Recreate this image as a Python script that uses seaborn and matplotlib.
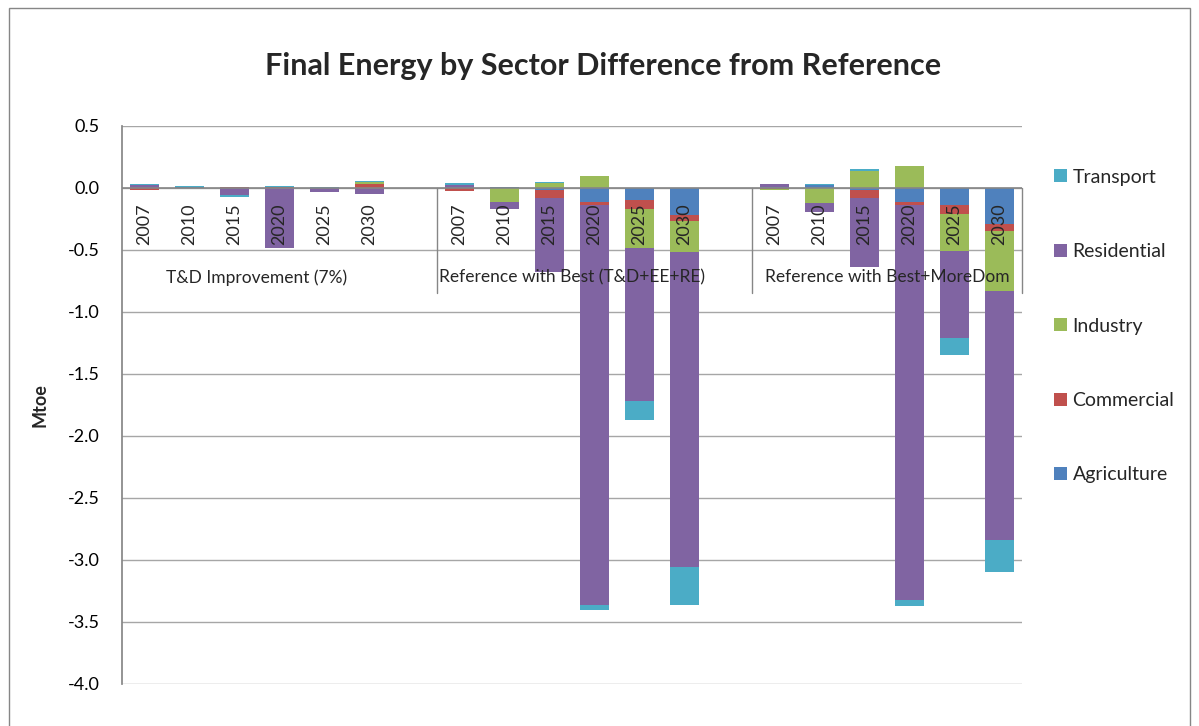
import numpy as np
import pandas as pd
import matplotlib
matplotlib.use("Agg")
import matplotlib.pyplot as plt
import seaborn as sns
from matplotlib.patches import Patch, Rectangle

# 数据
groups = ["T&D Improvement (7%)", "Reference with Best (T&D+EE+RE)", "Reference with Best+MoreDom"]
years = ["2007", "2010", "2015", "2020", "2025", "2030"]
sectors = ["Agriculture", "Commercial", "Industry", "Residential", "Transport"]

# 每个部门 3 组 x 6 年
agriculture = [0.0, 0.005, 0.0, 0.0, 0.0, 0.0,
               0.005, 0.005, -0.02, -0.11, -0.10, -0.22,
               0.005, 0.025, -0.02, -0.11, -0.14, -0.29]
commercial = [-0.02, 0.0, 0.01, 0.01, 0.0, 0.03,
              -0.025, 0.0, -0.06, -0.03, -0.07, -0.05,
              -0.01, 0.0, -0.06, -0.03, -0.07, -0.06]
industry = [0.0, 0.005, 0.0, 0.0, 0.0, 0.02,
            0.007, -0.11, 0.04, 0.10, -0.31, -0.25,
            -0.01, -0.12, 0.14, 0.18, -0.30, -0.48]
residential = [0.025, 0.0, -0.06, -0.485, -0.03, -0.045,
               0.015, -0.06, -0.60, -3.22, -1.24, -2.54,
               0.025, -0.075, -0.56, -3.18, -0.70, -2.01]
transport = [0.005, 0.008, -0.01, 0.01, 0.008, 0.01,
             0.01, 0.005, 0.008, -0.045, -0.15, -0.30,
             0.005, 0.005, 0.01, -0.05, -0.14, -0.26]

colors = {"Agriculture": "#4F81BD", "Commercial": "#C0504D", "Industry": "#9BBB59",
          "Residential": "#8064A2", "Transport": "#4BACC6"}
values = {"Agriculture": agriculture, "Commercial": commercial, "Industry": industry,
          "Residential": residential, "Transport": transport}

# 类别位置（组之间留空位）
slots = []
slot_of = []
for gi, g in enumerate(groups):
    for y in years:
        slots.append(f"{g}|{y}")
        slot_of.append(len(slots) - 1)
    if gi < len(groups) - 1:
        slots.append(f"gap{gi}")

sns.set_theme(style="white")
plt.rcParams["font.family"] = ["Lato", "DejaVu Sans"]
plt.rcParams["axes.unicode_minus"] = False

W, H = 1199, 726
fig = plt.figure(figsize=(W / 100, H / 100), dpi=100)
ax = fig.add_axes([122 / W, 1 - 684 / H, 900 / W, 558 / H])

# 正负分别堆叠：先画累计最远的，再覆盖
for sign in (1, -1):
    cum = np.zeros(18)
    cums = {}
    for s in sectors:
        v = np.array(values[s])
        part = np.where(v * sign > 0, v, 0.0)
        cum = cum + part
        cums[s] = cum.copy()
    for s in reversed(sectors):
        full = np.zeros(len(slots))
        for i, idx in enumerate(slot_of):
            full[idx] = cums[s][i]
        df = pd.DataFrame({"slot": slots, "val": full})
        sns.barplot(data=df, x="slot", y="val", order=slots, color=colors[s],
                    saturation=1, width=0.64, errorbar=None, linewidth=0,
                    edgecolor="none", ax=ax)

ax.set_xlim(-0.5, len(slots) - 0.5)
ax.set_ylim(-4.0, 0.5)
ax.set_yticks(np.arange(-4.0, 0.51, 0.5))
ax.set_yticklabels([f"{t:.1f}" for t in np.arange(-4.0, 0.51, 0.5)], fontsize=13)
ax.set_xticks([])
ax.set_xlabel("")
ax.set_ylabel("")
ax.tick_params(axis="y", length=0, pad=16, colors="black")
ax.yaxis.grid(True, color="#a6a6a6", linewidth=1)
ax.set_axisbelow(True)
for sp in ["top", "right", "bottom"]:
    ax.spines[sp].set_visible(False)
ax.spines["left"].set_color("#868686")
ax.axhline(0, color="#868686", linewidth=1.2, zorder=3)

# 年份标签与分组标签
for gi, g in enumerate(groups):
    for yi, y in enumerate(years):
        pos = slot_of[gi * 6 + yi]
        ax.text(pos, -0.29, y, rotation=90, ha="center", va="center", fontsize=13, zorder=4)
    start = slot_of[gi * 6]
    ax.text(start + 2.5, -0.72, g, ha="center", va="center", fontsize=12.5)
for xb in [6.5, 13.5, 19.5]:
    ax.plot([xb, xb], [0, -0.85], color="#868686", linewidth=1, clip_on=False)

# 标题和轴标签
fig.text(603 / W, 1 - 66 / H, "Final Energy by Sector Difference from Reference",
         ha="center", va="center", fontsize=22, fontweight="bold")
fig.text(40 / W, 1 - 405 / H, "Mtoe", rotation=90, ha="center", va="center",
         fontsize=13, fontweight="bold")

# 图例
handles = [Patch(facecolor=colors[s], edgecolor="none") for s in reversed(sectors)]
fig.legend(handles, list(reversed(sectors)), loc="center left",
           bbox_to_anchor=(1054 / W, 1 - 326 / H), frameon=False, fontsize=14,
           handlelength=0.65, handleheight=0.65, handletextpad=0.3, labelspacing=2.95,
           borderpad=0, borderaxespad=0)

# 外框
fig.patches.append(Rectangle((9 / W, -0.1), (1190 - 9) / W, 1.1 - 8 / H,
                             transform=fig.transFigure, fill=False,
                             edgecolor="#868686", linewidth=1))

fig.savefig("out.png", dpi=100)
